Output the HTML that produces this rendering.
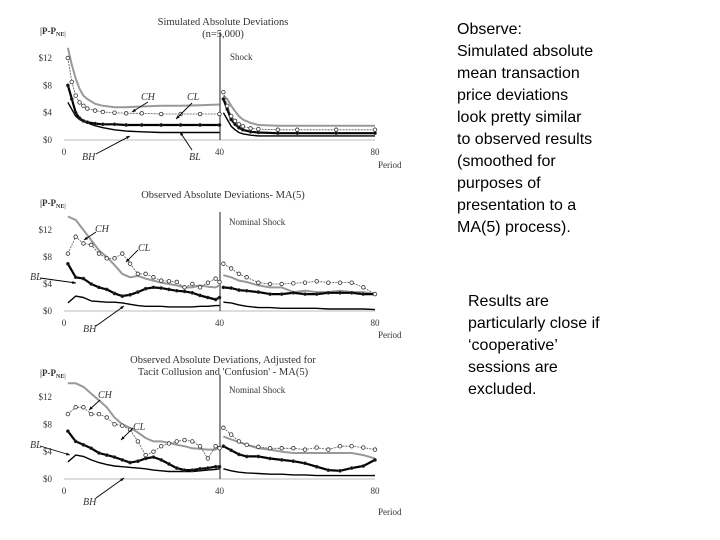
<!DOCTYPE html>
<html><head><meta charset="utf-8">
<style>
body{margin:0;background:#fff;width:720px;height:540px;overflow:hidden;position:relative;font-family:"Liberation Sans",sans-serif}
.note{position:absolute;font-size:16px;line-height:22px;color:#000}
svg text{font-family:"Liberation Serif",serif;fill:#333}
</style></head><body>
<svg id="chart" width="720" height="540" style="position:absolute;left:0;top:0"></svg>
<div class="note" style="left:457px;top:19px;">Observe:<br>Simulated absolute<br>mean transaction<br>price deviations<br>look pretty similar<br>to observed results<br>(smoothed for<br>purposes of<br>presentation to a<br>MA(5) process).</div>
<div class="note" style="left:468px;top:291px;">Results are<br>particularly close if<br>‘cooperative’<br>sessions are<br>excluded.</div>
<script>
// Chart 1 data (simulated)
const c1PerA=[1,2,3,4,5,6,8,10,13,16,20,25,30,35,40];
const c1PerB=[41,42,43,44,45,46,48,50,55,60,70,80];
const c1CH_A=[13.5,11,9,7.5,6.5,6,5.3,5,4.8,4.8,4.9,5,5,5.1,5.2];
const c1CH_B=[6.5,6,5,4.2,3.5,3,2.5,2.2,2.1,2.1,2.1,2.1];
const c1CL_A=[12,8.5,6.5,5.5,5,4.6,4.3,4.1,4,3.9,3.9,3.8,3.8,3.8,3.8];
const c1CL_B=[7,5,3.5,2.8,2.3,2,1.7,1.6,1.5,1.5,1.5,1.5];
const c1BL_A=[8,6,4,3.2,2.8,2.6,2.4,2.3,2.3,2.2,2.2,2.2,2.2,2.2,2.2];
const c1BL_B=[6,4.5,3,2.3,1.8,1.5,1.2,1.1,1,1,1,1];
const c1BH_A=[5.5,4.5,3.5,3,2.7,2.5,2.1,1.8,1.5,1.3,1.2,1.1,1.1,1.1,1.1];
const c1BH_B=[4,3,2,1.5,1.1,0.9,0.7,0.6,0.6,0.6,0.6,0.6];
// Charts 2 & 3 periods
const obsPerA=[1,3,5,7,9,11,13,15,17,19,21,23,25,27,29,31,33,35,37,39,40];
const obsPerB=[41,43,45,47,50,53,56,59,62,65,68,71,74,77,80];
// Chart 2 (observed MA5)
const c2CH_A=[14,13.5,12,10.5,9,8,6.8,5.5,5,5.2,4.8,4.5,4.2,4,3.8,3.5,3.5,3.8,3.6,3.5,3.8];
const c2CH_B=[5.3,5,4.5,4.3,3.8,3.5,3.5,2.8,3,2.8,2.8,3.0,2.8,2.8,2.5];
const c2CL_A=[8.5,11,10,9.8,8.5,7.8,7.8,8.5,7,5.5,5.5,5,4.5,4.4,4.3,3.5,4,3.5,4.2,4.8,4.3];
const c2CL_B=[7,6.3,5.5,5,4.2,4,4,4.1,4.2,4.4,4.2,4.2,4.2,3.5,2.5];
const c2BL_A=[7,5,4.8,4,3.5,3.2,2.6,2.2,2.4,2.8,3.3,3.5,3.4,3.2,3.0,2.9,2.7,2.3,2.0,1.7,2.0];
const c2BL_B=[3.5,3.4,3.1,3,2.8,2.5,2.5,2.7,2.5,2.5,2.7,2.7,2.7,2.5,2.5];
const c2BH_A=[1.2,2.2,2,1.5,1.4,1.3,1.3,1.2,1.0,0.8,0.7,0.7,0.7,0.6,0.6,0.6,0.6,0.7,0.7,0.8,0.8];
const c2BH_B=[1.3,1.2,0.9,0.7,0.5,0.5,0.4,0.4,0.4,0.4,0.3,0.3,0.3,0.3,0.2];
// Chart 3 (adjusted)
const c3CH_A=[14,14,13.5,12.5,11.5,10.5,9,8,7.5,6.8,6,5.5,5.5,5.3,5,4.8,4.5,4.4,4.3,4.3,4.8];
const c3CH_B=[6.2,5.8,5.4,5,4.5,4.3,4,3.8,3.8,3.8,3.8,3.8,3.8,3.5,3];
const c3CL_A=[9.5,10.5,10.5,9.5,9.5,9,8,7.8,7.2,5.5,3.5,4,4.8,5.2,5.5,5.7,5.5,4.8,3,4.8,4.5];
const c3CL_B=[7.5,6.5,5.5,5,4.7,4.5,4.5,4.5,4.3,4.6,4.3,4.8,4.8,4.6,4.3];
const c3BL_A=[7,5.5,5,4.5,3.8,3.5,3.2,2.8,2.4,2.6,3,3.2,2.8,2.2,1.6,1.3,1.3,1.5,1.6,1.8,1.8];
const c3BL_B=[4.8,4.2,3.6,3.3,3.3,3.0,2.8,2.6,2.3,1.8,1.3,1.2,1.6,1.9,2.8];
const c3BH_A=[2.5,3.5,3.3,2.8,2.4,2.1,1.9,1.8,1.7,1.6,1.5,1.3,1.2,1.1,1.1,1.1,1.1,1.2,1.3,1.4,1.5];
const c3BH_B=[1.5,1.2,1,0.9,0.8,0.7,0.7,0.6,0.6,0.5,0.5,0.5,0.5,0.5,0.5];
const yTicks=["$0","$4","$8","$12"];
const xTicks=["0","40","80"];

const svg=document.getElementById('chart');
const NS='http://www.w3.org/2000/svg';
function mk(tag,attrs,parent){const e=document.createElementNS(NS,tag);for(const k in attrs)e.setAttribute(k,attrs[k]);(parent||svg).appendChild(e);return e;}
function txt(s,x,y,size,extra,parent){const t=mk('text',Object.assign({x:x,y:y,'font-size':size},extra||{}),parent);t.textContent=s;return t;}
function makeChart(name,y0,pxPerDollar,top){
  const g=mk('g',{});
  
  
  const xS=p=>64+p*(311/80);
  const yS=v=>y0-Math.min(v,14.2)*pxPerDollar;
  const ax=mk('line',{x1:64,x2:375,y1:y0,y2:y0,stroke:'#bbb','stroke-width':1},g);
  
  
  const sh=mk('line',{x1:220,x2:220,y1:top,y2:y0,stroke:'#444','stroke-width':1.2},g);
  
  
  yTicks.forEach((s,i)=>{const t=txt(s,52,yS(i*4)+3,9,{'text-anchor':'end'},g);
    
    });
  xTicks.forEach((s,i)=>{const t=txt(s,xS(i*40),y0+15,9,{'text-anchor':'middle'},g);
    
    });
  return {g,xS,yS,y0};
}
function series(c,name,per,vals,style){
  const pts=per.map((p,i)=>c.xS(p).toFixed(1)+','+c.yS(vals[i]).toFixed(1)).join(' ');
  const pl=mk('polyline',{points:pts,fill:'none',stroke:style.stroke,'stroke-width':style.w,'stroke-linejoin':'round','stroke-dasharray':style.dash||'none'},c.g);
  
  
  if(style.marker){per.forEach((p,i)=>{
    const m=mk('circle',{cx:c.xS(p),cy:c.yS(vals[i]),r:style.marker==='open'?1.8:1.4,fill:style.marker==='open'?'#fff':'#000',stroke:'#333','stroke-width':0.8},c.g);
    
    
  });}
}
const stCH={stroke:'#999',w:2};
const stCL={stroke:'#555',w:0.8,dash:'2,1',marker:'open'};
const stBL={stroke:'#000',w:2.2,marker:'dot'};
const stBH={stroke:'#000',w:1.4};
function allSeries(c,d){
  series(c,'ch-line',d.pA,d.CH[0],stCH);series(c,'ch-line-after-shock',d.pB,d.CH[1],stCH);
  series(c,'bh-line',d.pA,d.BH[0],stBH);series(c,'bh-line-after-shock',d.pB,d.BH[1],stBH);
  series(c,'bl-line',d.pA,d.BL[0],stBL);series(c,'bl-line-after-shock',d.pB,d.BL[1],stBL);
  series(c,'cl-line',d.pA,d.CL[0],stCL);series(c,'cl-line-after-shock',d.pB,d.CL[1],stCL);
}
function arrow(x1,y1,x2,y2,parent){
  const l=mk('line',{x1,y1,x2,y2,stroke:'#000','stroke-width':0.9},parent);
  
  
  const a=Math.atan2(y2-y1,x2-x1),s=4;
  const p=mk('polygon',{points:`${x2},${y2} ${x2-s*Math.cos(a-0.4)},${y2-s*Math.sin(a-0.4)} ${x2-s*Math.cos(a+0.4)},${y2-s*Math.sin(a+0.4)}`,fill:'#000'},parent);
  
  
}
function lab(s,x,y,parent,name,size,extra){const t=txt(s,x,y,size||10,extra,parent);
  
  return t;}
function yTitle(x,y,parent){const t=lab('|P-P',x,y,parent,'y-axis-title',9,{'font-weight':'bold'});
  const s=mk('tspan',{'font-size':6,dy:2},t);s.textContent='NE|';}

// Chart 1
const c1=makeChart('simulated-chart',140,82/12,32);
allSeries(c1,{pA:c1PerA,pB:c1PerB,CH:[c1CH_A,c1CH_B],CL:[c1CL_A,c1CL_B],BL:[c1BL_A,c1BL_B],BH:[c1BH_A,c1BH_B]});
lab('Simulated Absolute Deviations',223,25,c1.g,'chart-title',10.5,{'text-anchor':'middle'});
lab('(n=5,000)',223,37,c1.g,'chart-subtitle',10.5,{'text-anchor':'middle'});
yTitle(40,34,c1.g);
lab('Shock',230,60,c1.g,'shock-label',9);
lab('CH',141,100,c1.g,'ch-label',10,{'font-style':'italic'});arrow(148,102,132,112,c1.g);
lab('CL',187,100,c1.g,'cl-label',10,{'font-style':'italic'});arrow(192,103,176,119,c1.g);
lab('BH',82,160,c1.g,'bh-label',10,{'font-style':'italic'});arrow(96,154,130,136,c1.g);
lab('BL',189,160,c1.g,'bl-label',10,{'font-style':'italic'});arrow(192,150,180,132,c1.g);
lab('Period',378,168,c1.g,'x-axis-title',9);

// Chart 2
const c2=makeChart('observed-chart',311,81/12,212);
allSeries(c2,{pA:obsPerA,pB:obsPerB,CH:[c2CH_A,c2CH_B],CL:[c2CL_A,c2CL_B],BL:[c2BL_A,c2BL_B],BH:[c2BH_A,c2BH_B]});
lab('Observed Absolute Deviations- MA(5)',223,198,c2.g,'chart-title',10.5,{'text-anchor':'middle'});
yTitle(40,206,c2.g);
lab('Nominal Shock',229,225,c2.g,'shock-label',9);
lab('CH',95,232,c2.g,'ch-label',10,{'font-style':'italic'});arrow(96,232,84,240,c2.g);
lab('CL',138,251,c2.g,'cl-label',10,{'font-style':'italic'});arrow(138,250,126,262,c2.g);
lab('BL',30,280,c2.g,'bl-label',10,{'font-style':'italic'});arrow(40,278,76,283,c2.g);
lab('BH',83,332,c2.g,'bh-label',10,{'font-style':'italic'});arrow(96,326,124,306,c2.g);
lab('Period',378,338,c2.g,'x-axis-title',9);

// Chart 3
const c3=makeChart('adjusted-chart',479,82/12,375);
allSeries(c3,{pA:obsPerA,pB:obsPerB,CH:[c3CH_A,c3CH_B],CL:[c3CL_A,c3CL_B],BL:[c3BL_A,c3BL_B],BH:[c3BH_A,c3BH_B]});
lab('Observed Absolute Deviations, Adjusted for',223,363,c3.g,'chart-title',10.5,{'text-anchor':'middle'});
lab("Tacit Collusion and 'Confusion' - MA(5)",223,375,c3.g,'chart-title-line2',10.5,{'text-anchor':'middle'});
yTitle(40,376,c3.g);
lab('Nominal Shock',229,393,c3.g,'shock-label',9);
lab('CH',98,398,c3.g,'ch-label',10,{'font-style':'italic'});arrow(100,400,89,410,c3.g);
lab('CL',133,430,c3.g,'cl-label',10,{'font-style':'italic'});arrow(133,428,121,440,c3.g);
lab('BL',30,448,c3.g,'bl-label',10,{'font-style':'italic'});arrow(40,446,70,455,c3.g);
lab('BH',83,505,c3.g,'bh-label',10,{'font-style':'italic'});arrow(96,498,124,478,c3.g);
lab('Period',378,515,c3.g,'x-axis-title',9);
</script>
</body></html>
